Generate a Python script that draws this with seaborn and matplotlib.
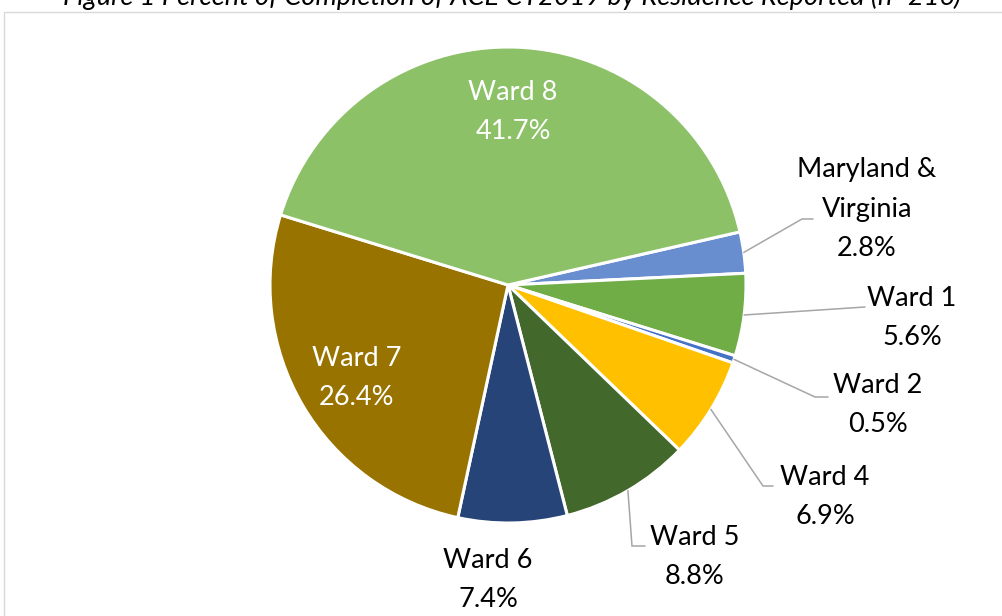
import matplotlib
matplotlib.use("Agg")
import matplotlib.pyplot as plt
from matplotlib.patches import Rectangle
import numpy as np
import seaborn as sns

# Residence groups, in clockwise order around the pie
categories = ["Maryland &\nVirginia", "Ward 1", "Ward 2", "Ward 4",
              "Ward 5", "Ward 6", "Ward 7", "Ward 8"]
percents = [2.8, 5.6, 0.5, 6.9, 8.8, 7.4, 26.4, 41.7]
colors = ["#698ED0", "#70AD47", "#4472C4", "#FFC000",
          "#43682B", "#264478", "#997300", "#8CC168"]
title = "Figure 1 Percent of Completion of ACE CY2019 by Residence Reported (n=216)"

sns.set_theme(style="white")
plt.rcParams["font.family"] = ["Lato", "DejaVu Sans"]

W, H = 1003, 616
fig = plt.figure(figsize=(W / 100, H / 100), dpi=100)
fig.patch.set_facecolor("white")

# pie centre and radius in pixels; axes limits give 1 data unit = R pixels
cx, cy, R = 508, 285, 238
ax = fig.add_axes([0, 0, 1, 1])


def px(x, y):
    return ((x - cx) / R, (cy - y) / R)


start = 12.9  # degrees, counter-clockwise from 3 o'clock
wedges, _ = ax.pie(percents, colors=colors, startangle=start, counterclock=False,
                   radius=1, center=(0, 0), frame=True,
                   wedgeprops=dict(edgecolor="white", linewidth=2.2))
ax.set_xlim(-cx / R, (W - cx) / R)
ax.set_ylim(-(H - cy) / R, cy / R)
ax.set_aspect("auto")
ax.set_axis_off()

# label layout: text centre, leader elbow, leader end (pixels), text colour
layout = {
    "Maryland &\nVirginia": ((867, 209), (802, 219), (813, 219), "black"),
    "Ward 1": ((912, 318), (865, 307), (865, 307), "black"),
    "Ward 2": ((878, 405), (815, 397), (828, 397), "black"),
    "Ward 4": ((825, 497), (763, 486), (773, 486), "black"),
    "Ward 5": ((695, 557), (632, 546), (645, 546), "black"),
    "Ward 6": ((488, 580), None, None, "black"),
    "Ward 7": ((357, 378), None, None, "white"),
    "Ward 8": ((513, 112), None, None, "white"),
}

for w, name, p in zip(wedges, categories, percents):
    (tx, ty), elbow, end, col = layout[name]
    ax.text(*px(tx, ty), f"{name}\n{p:.1f}%", ha="center", va="center",
            fontsize=19.5, color=col, linespacing=1.72)
    if elbow is not None:
        mid = np.deg2rad((w.theta1 + w.theta2) / 2)
        x0, y0 = np.cos(mid), np.sin(mid)
        ex, ey = px(*elbow)
        fx, fy = px(*end)
        ax.plot([x0, ex, fx], [y0, ey, fy], color="#A6A6A6", lw=1.1,
                solid_joinstyle="miter")

# chart area border
fig.patches.append(Rectangle((4 / W, -0.1), 1.2, 1 - 12 / H + 0.1,
                             transform=fig.transFigure, fill=False,
                             edgecolor="#D9D9D9", lw=1.0))

fig.text(0.51, 1 - 5 / H, title, ha="center", va="baseline",
         fontsize=19.5, style="italic", color="black")

fig.savefig("out.png", dpi=100, facecolor="white")
